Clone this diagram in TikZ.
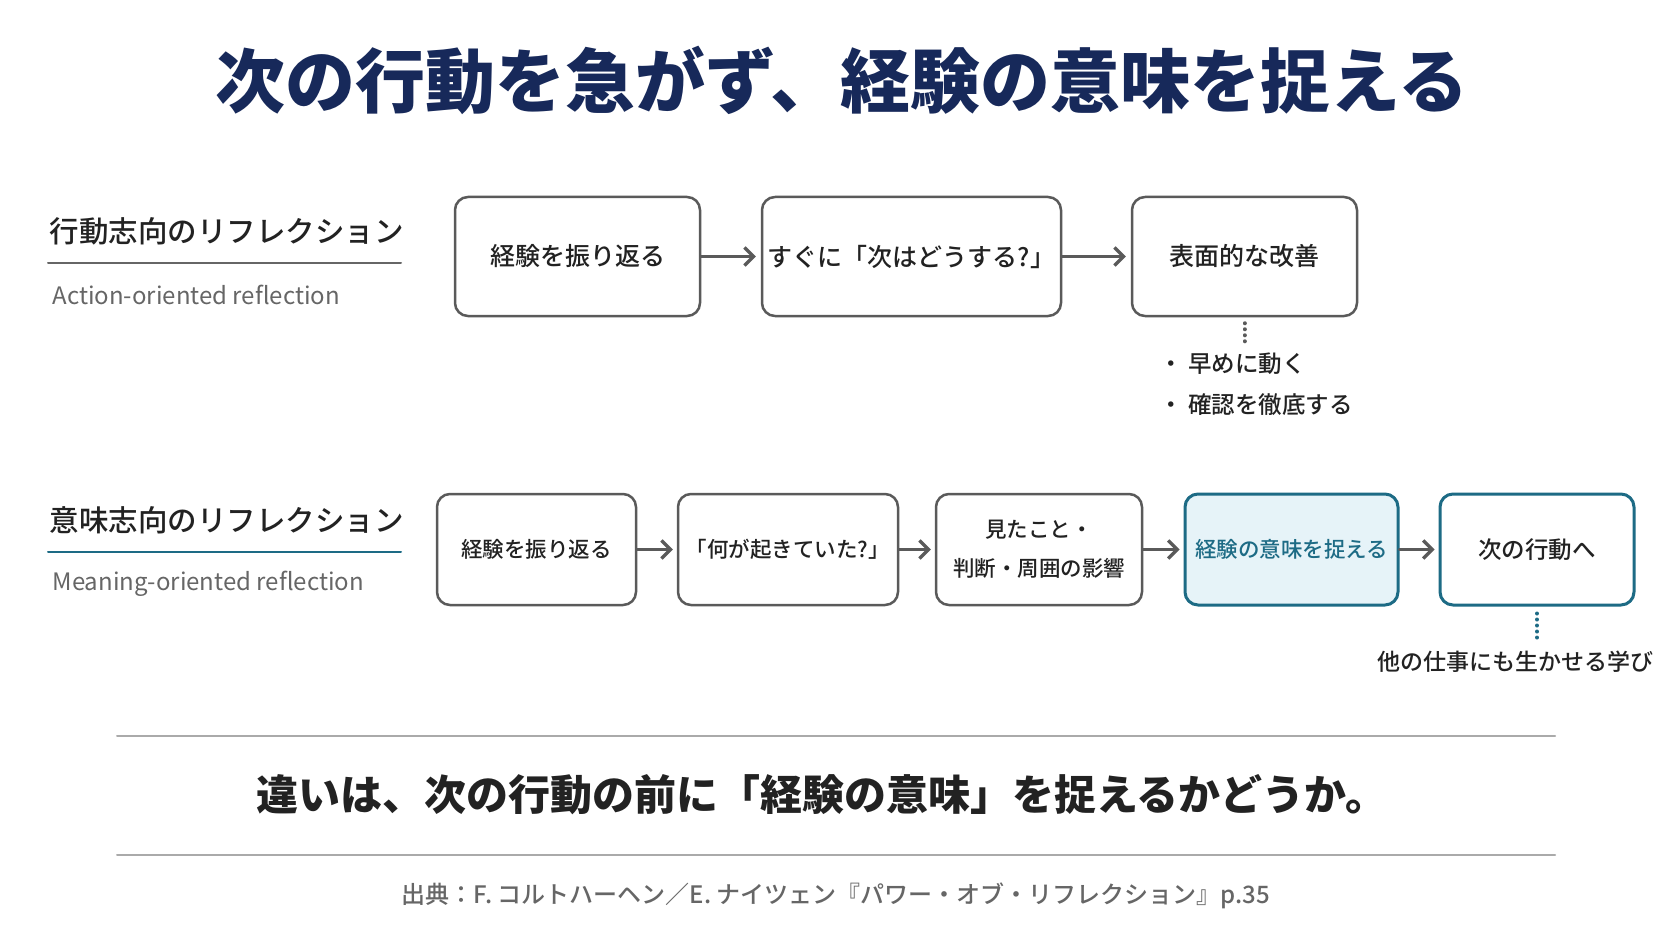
\documentclass[tikz,border=0pt]{standalone}
\usepackage{fontspec}
\setmainfont{Noto Sans CJK JP}
\newfontfamily\jpmed{Noto Sans CJK JP Medium}
\usetikzlibrary{arrows.meta}
\definecolor{navy}{HTML}{17295A}
\definecolor{mteal}{HTML}{1D6B85}
\definecolor{lightteal}{HTML}{E6F3F8}
\definecolor{boxgray}{HTML}{5A5A5A}
\definecolor{ink}{HTML}{222222}
\definecolor{subgray}{HTML}{666666}
\definecolor{rulegray}{HTML}{AAAAAA}
\tikzset{
  stepbox/.style={draw=boxgray,line width=2.5pt,rounded corners=13pt,text=ink,align=center,inner sep=0pt},
  keybox/.style={stepbox,draw=mteal,fill=lightteal,text=mteal,line width=3pt},
  flow/.style={draw=boxgray,line width=3.3pt,-{Straight Barb[length=9pt,width=18pt,line width=3.3pt]},shorten >=5pt},
  dots/.style={line width=4pt,dash pattern=on 0.01pt off 6pt,line cap=round},
  bigjp/.style={font=\fontsize{25}{32}\selectfont\jpmed},
  smalljp/.style={font=\fontsize{21.5}{39}\selectfont\jpmed},
  notejp/.style={font=\fontsize{23.5}{30}\selectfont\jpmed},
}
\begin{document}
\begin{tikzpicture}[x=1pt,y=-1pt,line join=round,line cap=round]
	\fill[white] (0,0) rectangle (1672,941);
	\useasboundingbox (0,0) rectangle (1672,941);
	\node[font=\fontsize{70}{80}\selectfont\bfseries,text=navy] (title) at (842,80) {次の行動を急がず、経験の意味を捉える};
	% action-oriented row
	\node[anchor=west,font=\fontsize{29.5}{34}\selectfont\jpmed,text=ink] (actlbl) at (46,231) {行動志向のリフレクション};
	\draw[subgray,line width=2pt] (48,263) -- (401,263);
	\node[anchor=west,font=\fontsize{24}{28}\selectfont,text=subgray] (actsub) at (49,295) {Action-oriented reflection};
	\node[stepbox,bigjp,minimum width=245pt,minimum height=119pt] (a1) at (577.5,256.5) {経験を振り返る};
	\node[stepbox,bigjp,minimum width=299pt,minimum height=119pt] (a2) at (911.5,256.5) {すぐに「次はどうする?」};
	\node[stepbox,bigjp,minimum width=225pt,minimum height=119pt] (a3) at (1244.5,256.5) {表面的な改善};
	\draw[flow] (a1) -- (a2);
	\draw[flow] (a2) -- (a3);
	\coordinate (a3end) at (1244.5,342);
	\draw[dots,draw=boxgray] ([yshift=-6pt]a3.south) -- (a3end);
	\node[anchor=west,notejp,text=ink] (tip1) at (1156,364) {・ 早めに動く};
	\node[anchor=west,notejp,text=ink] (tip2) at (1156,405) {・ 確認を徹底する};
	% meaning-oriented row
	\node[anchor=west,font=\fontsize{29.5}{34}\selectfont\jpmed,text=ink] (mnglbl) at (46,520) {意味志向のリフレクション};
	\draw[mteal,line width=2pt] (48,552) -- (401,552);
	\node[anchor=west,font=\fontsize{24}{28}\selectfont,text=subgray] (mngsub) at (49,584) {Meaning-oriented reflection};
	\node[stepbox,smalljp,minimum width=199pt,minimum height=111pt] (b1) at (536.5,549.5) {経験を振り返る};
	\node[stepbox,smalljp,minimum width=220pt,minimum height=111pt] (b2) at (788,549.5) {「何が起きていた?」};
	\node[stepbox,smalljp,minimum width=206pt,minimum height=111pt] (b3) at (1039,549.5) {見たこと・\\判断・周囲の影響};
	\node[keybox,smalljp,minimum width=213pt,minimum height=111pt] (b4) at (1291.5,549.5) {経験の意味を捉える};
	\node[stepbox,notejp,draw=mteal,line width=3pt,minimum width=194pt,minimum height=111pt] (b5) at (1537,549.5) {次の行動へ};
	\draw[flow,shorten >=4pt] (b1) -- (b2);
	\draw[flow,shorten >=4pt] (b2) -- (b3);
	\draw[flow,shorten >=4pt] (b3) -- (b4);
	\draw[flow,shorten >=4pt] (b4) -- (b5);
	\coordinate (b5end) at (1537,640);
	\draw[dots,draw=mteal] ([yshift=-7pt]b5.south) -- (b5end);
	\node[font=\fontsize{23}{30}\selectfont\jpmed,text=ink] (learn) at (1515,662) {他の仕事にも生かせる学び};
	% summary
	\draw[rulegray,line width=2pt] (117,736) -- (1555,736);
	\draw[rulegray,line width=2pt] (117,855) -- (1555,855);
	\node[font=\fontsize{42}{48}\selectfont\bfseries,text=ink] (sum) at (822,795) {違いは、次の行動の前に「経験の意味」を捉えるかどうか。};
	\node[font=\fontsize{24}{28}\selectfont\jpmed,text=subgray] (src) at (836,896) {出典：F. コルトハーヘン／E. ナイツェン『パワー・オブ・リフレクション』p.35};
\end{tikzpicture}
\end{document}
